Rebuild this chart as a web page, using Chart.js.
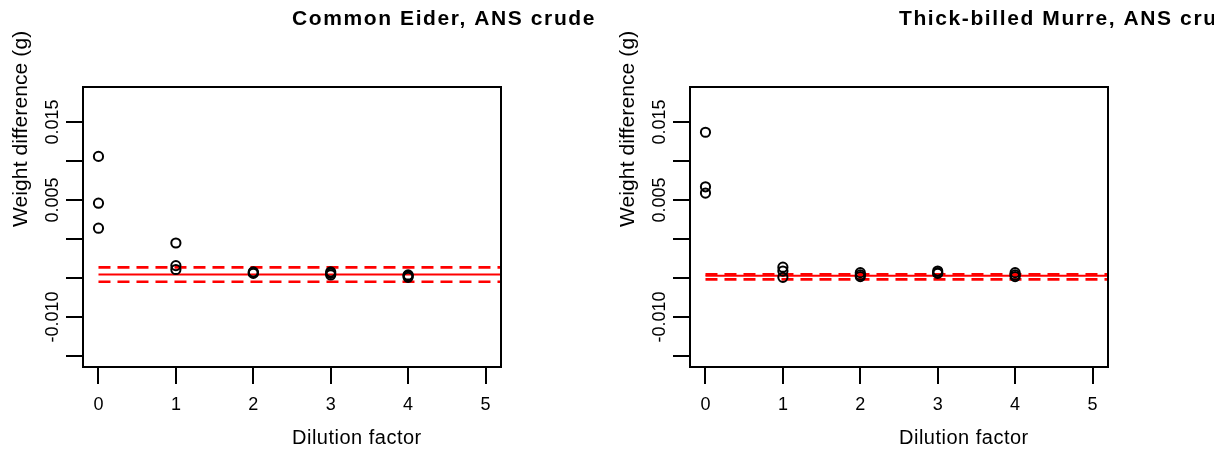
<!DOCTYPE html>
<html>
<head>
<meta charset="utf-8">
<script src="https://cdn.jsdelivr.net/npm/chart.js@4"></script>
<style>
  html, body { margin: 0; padding: 0; background: #fff; }
  .panel { position: absolute; top: 0; width: 607px; height: 451px; }
</style>
</head>
<body>
<div class="panel" style="left:0"><canvas id="eider" width="607" height="451"></canvas></div>
<div class="panel" style="left:607px"><canvas id="murre" width="607" height="451"></canvas></div>
<script>
// dilution factor of each replicate (same design in both panels)
var dilution = [0, 0, 0, 1, 1, 1, 2, 2, 2, 3, 3, 3, 4, 4, 4];

// Common Eider, ANS crude - weight difference (g)
var eiderWeight = [0.0106, 0.0046, 0.0014, -0.0005, -0.0034, -0.0039, -0.0042, -0.0043, -0.0044,
                   -0.0042, -0.0044, -0.0046, -0.0046, -0.0047, -0.0049];
var eiderMean = -0.00453;
var eiderBand = [-0.00547, -0.00363];

// Thick-billed Murre, ANS crude - weight difference (g)
var murreWeight = [0.0137, 0.0067, 0.0059, -0.0036, -0.0041, -0.0049, -0.0043, -0.0046, -0.0048,
                   -0.0041, -0.0043, -0.0044, -0.0043, -0.0046, -0.0048];
var murreMean = -0.0047;
var murreBand = [-0.00517, -0.00453];

// axes
var xTicks = [0, 1, 2, 3, 4, 5];
var yTicks = [-0.015, -0.01, -0.005, 0, 0.005, 0.01, 0.015];
var yLabelled = [0.015, 0.005, -0.01];
var xRange = [-0.2, 5.2];
var yRange = [-0.0164, 0.0195];
var lineStart = 0;

var FONT = '"Liberation Sans", Arial, Helvetica, sans-serif';

// box round the plot region + titles placed the way the original has them
var rBox = {
    id: 'rBox',
    afterDatasetsDraw: function (chart) {
        var a = chart.chartArea, ctx = chart.ctx;
        ctx.save();
        ctx.strokeStyle = '#000';
        ctx.lineWidth = 2;
        ctx.strokeRect(a.left, a.top, a.right - a.left, a.bottom - a.top);
        ctx.restore();
    },
    afterDraw: function (chart, args, opts) {
        var a = chart.chartArea, ctx = chart.ctx;
        var cx = (a.left + a.right) / 2, cy = (a.top + a.bottom) / 2;
        ctx.save();
        ctx.fillStyle = '#000';
        ctx.textAlign = 'left';
        ctx.textBaseline = 'alphabetic';

        ctx.font = 'bold 21px ' + FONT;
        ctx.letterSpacing = '1.6px';
        ctx.fillText(opts.title, cx, 25);

        ctx.font = '20px ' + FONT;
        ctx.letterSpacing = '0.5px';
        ctx.fillText(opts.xTitle, cx, 444);

        ctx.font = '21px ' + FONT;
        ctx.letterSpacing = '0.1px';
        ctx.translate(21, cy);
        ctx.rotate(-Math.PI / 2);
        ctx.textBaseline = 'middle';
        ctx.fillText(opts.yTitle, 0, 0);
        ctx.restore();
    }
};

function pairs(xs, ys) {
    return xs.map(function (x, i) { return { x: x, y: ys[i] }; });
}

function hline(y, dash, width) {
    return {
        type: 'line',
        data: [{ x: lineStart, y: y }, { x: xRange[1], y: y }],
        borderColor: '#ff0000',
        borderWidth: width,
        borderDash: dash,
        pointRadius: 0,
        fill: false
    };
}

function makePlot(id, title, weights, mean, band) {
    var ctx = document.getElementById(id);
    var config = {
        type: 'scatter',
        data: {
            datasets: [
                {
                    data: pairs(dilution, weights),
                    pointStyle: 'circle',
                    pointRadius: 4.6,
                    pointBorderWidth: 2,
                    borderColor: '#000',
                    backgroundColor: 'rgba(0,0,0,0)'
                },
                hline(mean, [], 2),
                hline(band[0], [12, 7], 2.6),
                hline(band[1], [12, 7], 2.6)
            ]
        },
        options: {
            responsive: false,
            animation: false,
            layout: { padding: { left: 0, top: 87, right: 106, bottom: 0 } },
            plugins: {
                legend: { display: false },
                tooltip: { enabled: false },
                rBox: { title: title, xTitle: 'Dilution factor', yTitle: 'Weight difference (g)' }
            },
            scales: {
                x: {
                    type: 'linear',
                    min: xRange[0],
                    max: xRange[1],
                    afterBuildTicks: function (s) { s.ticks = xTicks.map(function (v) { return { value: v }; }); },
                    afterFit: function (s) { s.height = 84; },
                    border: { display: false },
                    grid: { drawOnChartArea: false, drawTicks: true, tickLength: 17, color: '#000', lineWidth: 2 },
                    ticks: {
                        autoSkip: false, maxRotation: 0, padding: 10,
                        color: '#000', font: { family: FONT, size: 18 },
                        callback: function (v) { return String(v); }
                    }
                },
                y: {
                    type: 'linear',
                    min: yRange[0],
                    max: yRange[1],
                    afterBuildTicks: function (s) { s.ticks = yTicks.map(function (v) { return { value: v }; }); },
                    afterFit: function (s) { s.width = 83; },
                    border: { display: false },
                    grid: { drawOnChartArea: false, drawTicks: true, tickLength: 17, color: '#000', lineWidth: 2 },
                    ticks: {
                        autoSkip: false, minRotation: 90, maxRotation: 90,
                        crossAlign: 'center', padding: -12.6,
                        color: '#000', font: { family: FONT, size: 18 },
                        callback: function (v) {
                            var hit = yLabelled.some(function (t) { return Math.abs(t - v) < 1e-9; });
                            return hit ? v.toFixed(3) : '';
                        }
                    }
                }
            }
        },
        plugins: [rBox]
    };
    return new Chart(ctx, config);
}

makePlot('eider', 'Common Eider, ANS crude', eiderWeight, eiderMean, eiderBand);
makePlot('murre', 'Thick-billed Murre, ANS crude', murreWeight, murreMean, murreBand);
</script>
</body>
</html>
